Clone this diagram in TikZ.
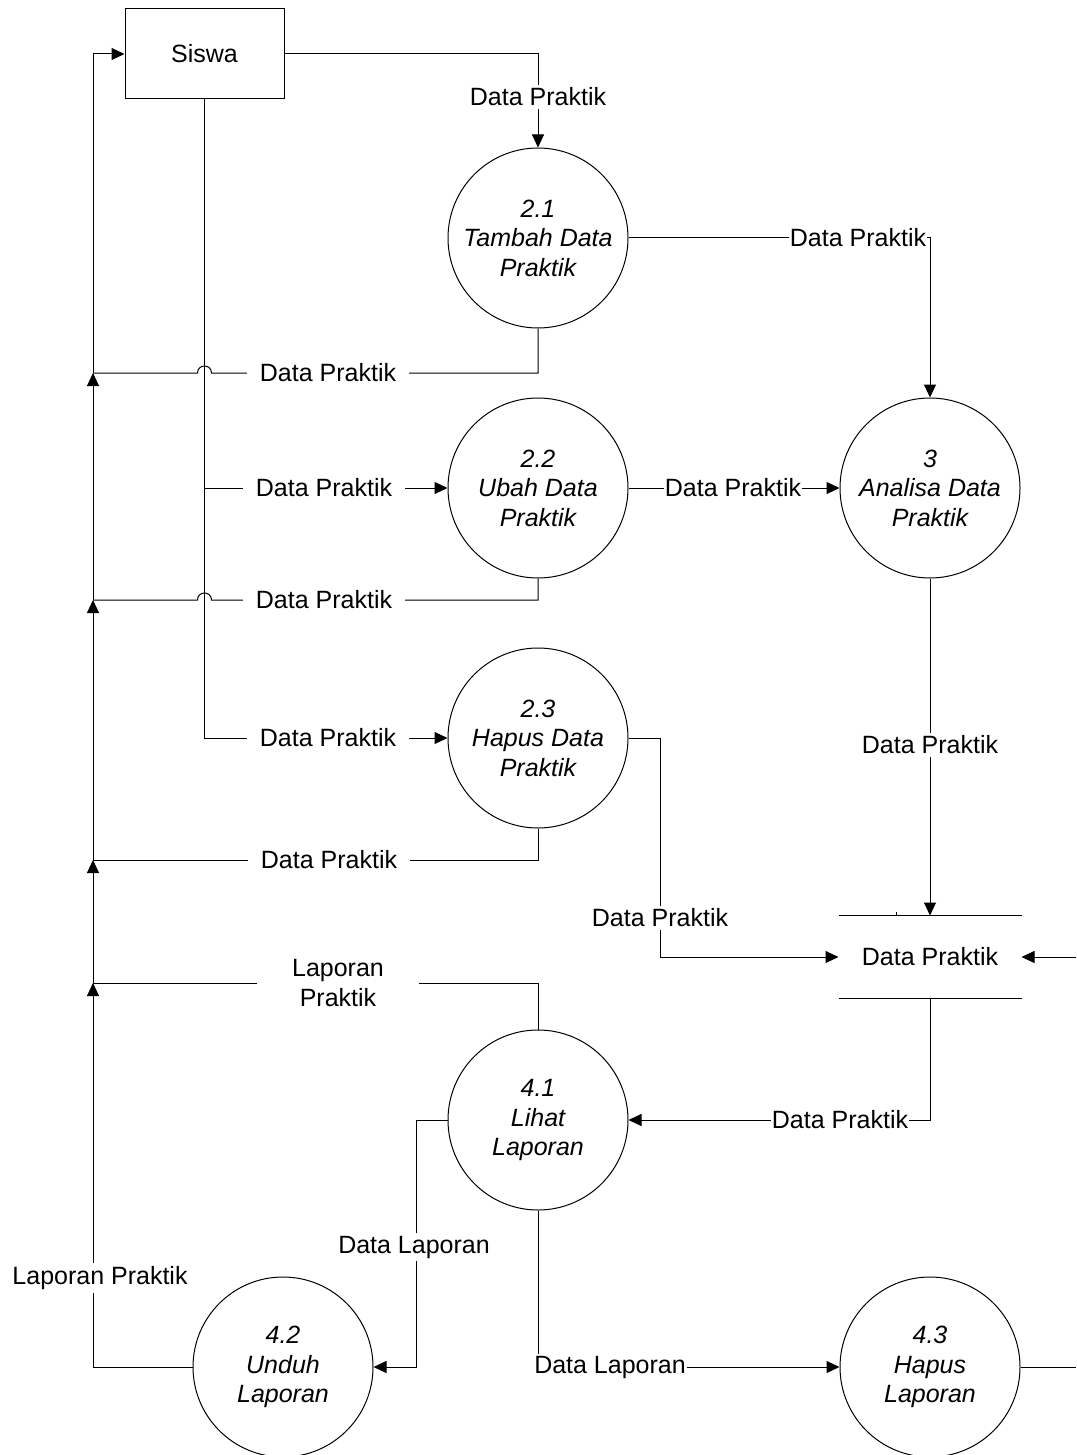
\documentclass[tikz,border=0pt]{standalone}
\usepackage{fontspec}
\setmainfont{Liberation Sans}
\usetikzlibrary{arrows.meta}
\begin{document}
\begin{tikzpicture}[x=0.5pt,y=-0.5pt, line width=0.5pt,
  >={Triangle[length=6.5pt,width=6pt]},
  every node/.style={font=\fontsize{12.5}{14.75}\selectfont},
  proc/.style={circle,draw,minimum size=90pt,inner sep=0pt,align=center,font=\fontsize{12.5}{14.75}\selectfont\itshape},
  ent/.style={draw,minimum width=79.5pt,minimum height=45pt},
  lbl/.style={fill=white,inner xsep=6.5pt,inner ysep=1.5pt},
  lbt/.style={fill=white,inner xsep=0.5pt,inner ysep=1pt}]
\useasboundingbox (0,0) rectangle (1076,1455);

% nodes
\node[ent] (siswa) at (204.5,54) {Siswa};
\node[proc] (p21) at (538,238) {2.1\\Tambah Data\\Praktik};
\node[proc] (p22) at (538,488) {2.2\\Ubah Data\\Praktik};
\node[proc] (p23) at (538,738) {2.3\\Hapus Data\\Praktik};
\node[proc] (p3) at (930,488) {3\\Analisa Data\\Praktik};
\node[proc] (p41) at (538,1120) {4.1\\Lihat\\Laporan};
\node[proc] (p42) at (283,1367) {4.2\\Unduh\\Laporan};
\node[proc] (p43) at (930,1367) {4.3\\Hapus\\Laporan};
\node[minimum width=91pt,minimum height=41pt,inner sep=0pt] (store) at (930,957) {Data Praktik};
\draw (store.north west) -- (store.north east);
\draw (store.south west) -- (store.south east);
\draw (896,912) -- (896,916);

% bus coordinates
\coordinate (b1) at (93,373);
\coordinate (b2) at (93,600);
\coordinate (b3) at (93,860);
\coordinate (b4) at (93,983);
\coordinate (b5) at (93,1367);
\coordinate (ext1) at (1076,957);
\coordinate (ext2) at (1076,1367);

% left bus to Siswa
\draw[->] (b1) |- (siswa.west);
\draw[->] (b2) -- (b1);
\draw[->] (b3) -- (b2);
\draw[->] (b4) -- (b3);
\draw[->] (b5) -- (b4);

% Siswa -> 2.1
\draw[->] (siswa.east) -| (p21.north);
% 2.1 -> 3
\draw[->] (p21.east) -| (p3.north);
% 2.1 -> Siswa
\draw (p21.south) |- (211.5,373) .. controls (211.5,363.7) and (197.5,363.7) .. (197.5,373) -- (b1);
% Siswa -> 2.2, 2.3
\draw[->] (siswa.south) |- (p22.west);
\draw[->] (siswa.south) |- (p23.west);
% 2.2 -> 3
\draw[->] (p22.east) -- (p3.west);
% 2.2 -> Siswa
\draw (p22.south) |- (211.5,600) .. controls (211.5,590.7) and (197.5,590.7) .. (197.5,600) -- (b2);
% 2.3 -> Siswa
\draw (p23.south) |- (b3);
% 2.3 -> store
\draw[->] (p23.east) -- (660,738) |- (store.west);
% 3 -> store
\draw[->] (p3.south) -- (store.north);
% external -> store
\draw[->] (ext1) -- (store.east);
% store -> 4.1
\draw[->] (store.south) |- (p41.east);
% 4.1 -> Siswa
\draw (p41.north) |- (b4);
% 4.1 -> 4.2
\draw[->] (p41.west) -- (416,1120) |- (p42.east);
% 4.2 -> Siswa
\draw (p42.west) -- (b5);
% 4.1 -> 4.3
\draw[->] (p41.south) |- (p43.west);
% 4.3 -> external
\draw (p43.east) -- (ext2);

% labels
\node[lbl] at (538,97) {Data Praktik};
\node[lbt] at (858,238) {Data Praktik};
\node[lbl] at (328,373) {Data Praktik};
\node[lbl] at (324,488) {Data Praktik};
\node[lbt] at (733,488) {Data Praktik};
\node[lbl] at (324,600) {Data Praktik};
\node[lbl] at (328,738) {Data Praktik};
\node[lbl] at (930,745) {Data Praktik};
\node[lbl] at (329,860) {Data Praktik};
\node[lbl] at (660,918) {Data Praktik};
\node[lbl,align=center,inner xsep=17.5pt] at (338,983) {Laporan\\Praktik};
\node[lbt] at (840,1120) {Data Praktik};
\node[lbl] at (414,1247) {Data Laporan};
\node[lbl] at (100,1278) {Laporan Praktik};
\node[lbt] at (610,1367) {Data Laporan};
\end{tikzpicture}
\end{document}
